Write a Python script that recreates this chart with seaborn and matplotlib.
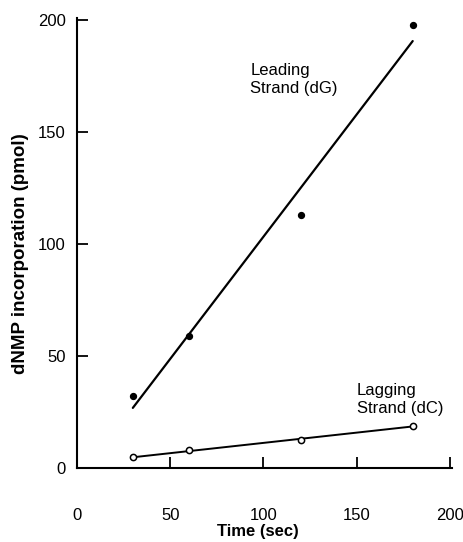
import numpy as np
import pandas as pd
import seaborn as sns
import matplotlib.pyplot as plt

# values
time_sec = [30, 60, 120, 180]
leading_dg = [32, 59, 113, 198]
lagging_dc = [4.6, 7.9, 12.2, 18.8]
x_ticks = [0, 50, 100, 150, 200]
y_ticks = [0, 50, 100, 150, 200]

df = pd.DataFrame({'time': time_sec, 'leading': leading_dg, 'lagging': lagging_dc})

sns.set_style("ticks")
plt.rcParams['font.family'] = ['Liberation Sans', 'DejaVu Sans']
plt.rcParams['text.color'] = 'black'
plt.rcParams['axes.labelcolor'] = 'black'
plt.rcParams['xtick.color'] = 'black'
plt.rcParams['ytick.color'] = 'black'

fig = plt.figure(figsize=(4.63, 5.42), dpi=100)
ax = fig.add_axes([0.166, 0.137, 0.81, 0.83])

# leading strand: filled points + fitted line
sns.regplot(data=df, x='time', y='leading', ax=ax, ci=None, truncate=True,
            color='black', marker='o',
            scatter_kws={'s': 18, 'alpha': 1, 'zorder': 3},
            line_kws={'lw': 1.6})
# lagging strand: open circles + fitted line
sns.regplot(data=df, x='time', y='lagging', ax=ax, ci=None, truncate=True,
            color='black', marker='o',
            scatter_kws={'s': 20, 'alpha': 1, 'facecolors': 'white', 'edgecolors': 'black',
                         'linewidths': 1.1, 'zorder': 3},
            line_kws={'lw': 1.4})

ax.text(93, 181, 'Leading\nStrand (dG)', fontsize=12, va='top', linespacing=1.3)
ax.text(150, 38, 'Lagging\nStrand (dC)', fontsize=12, va='top', linespacing=1.3)

ax.set_xlim(0, 201)
ax.set_ylim(0, 201)
ax.set_xticks(x_ticks)
ax.set_yticks(y_ticks)
ax.tick_params(axis='x', direction='in', length=8, width=1.3, pad=29, labelsize=12)
ax.tick_params(axis='y', direction='in', length=8, width=1.3, pad=8, labelsize=12)
sns.despine(ax=ax)
for s in ['left', 'bottom']:
    ax.spines[s].set_linewidth(1.5)
    ax.spines[s].set_color('black')

ax.set_xlabel('Time (sec)', fontsize=12, fontweight='bold')
ax.set_ylabel('dNMP incorporation (pmol)', fontsize=13.5, fontweight='bold')
ax.xaxis.set_label_coords(0.483, -0.124)
ax.yaxis.set_label_coords(-0.128, 0.476)

plt.savefig('out.png', dpi=100)
